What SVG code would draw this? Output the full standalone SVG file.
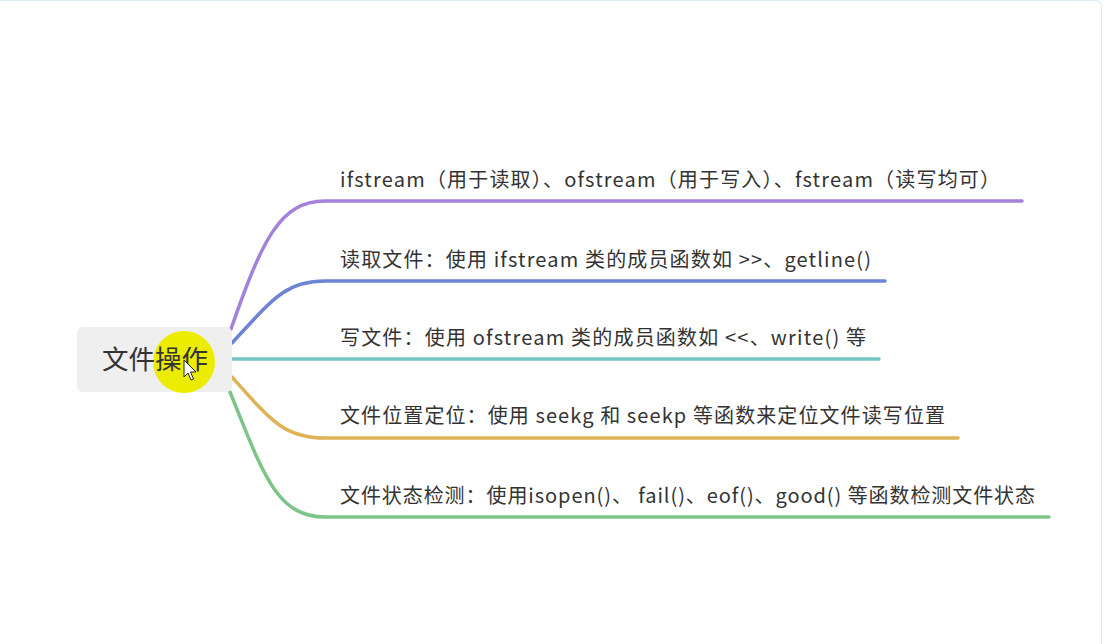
<svg xmlns="http://www.w3.org/2000/svg" width="1106" height="644" viewBox="0 0 1106 644">
<style>
.t{font-family:"Microsoft YaHei","Noto Sans CJK SC","Noto Sans",sans-serif;font-size:20px;fill:#333333}
.c{fill:none;stroke-width:3.5;stroke-linecap:round}
</style>
<rect x="0" y="0" width="1106" height="644" fill="#ffffff"/>
<path d="M0,0.5 H1096 Q1101.5,0.5 1101.5,6 V644" fill="none" stroke="#d6eef3" stroke-width="1"/>
<g id="connectors">
<path class="c" stroke="#a482dc" d="M231,329 C262,240 280,201 325,201 L1022,201"/>
<path class="c" stroke="#6d84d6" d="M232,343 C272,300 285,281 325,281 L885,281"/>
<path class="c" stroke="#77c4c4" d="M232,359 L879,359"/>
<path class="c" stroke="#ddb356" d="M232,377 C272,422 285,438 325,438 L958,438"/>
<path class="c" stroke="#7cc487" d="M230,392 C262,470 275,517 325,517 L1049,517"/>
</g>
<g id="root">
<rect x="77" y="327" width="155" height="65" rx="6" fill="#efefef"/>
<circle cx="184" cy="362" r="31" fill="#ecec00"/>
<text x="155" y="369" text-anchor="middle" class="t" style="font-size:26.5px">文件操作</text>
<path d="M184,360 L184,377 L188,373 L191,380 L193.5,379 L190.5,372 L196,372 Z" fill="#ffffff" stroke="#222" stroke-width="1"/>
</g>
<g id="n1"><text x="340" y="187" class="t" textLength="660" lengthAdjust="spacing">ifstream（用于读取）、ofstream（用于写入）、fstream（读写均可）</text></g>
<g id="n2"><text x="340" y="267" class="t" textLength="531" lengthAdjust="spacing">读取文件：使用 ifstream 类的成员函数如 &gt;&gt;、getline()</text></g>
<g id="n3"><text x="340" y="345" class="t" textLength="526" lengthAdjust="spacing">写文件：使用 ofstream 类的成员函数如 &lt;&lt;、write() 等</text></g>
<g id="n4"><text x="340" y="423" class="t" textLength="605" lengthAdjust="spacing">文件位置定位：使用 seekg 和 seekp 等函数来定位文件读写位置</text></g>
<g id="n5"><text x="340" y="503" class="t" textLength="695" lengthAdjust="spacing">文件状态检测：使用isopen()、 fail()、eof()、good() 等函数检测文件状态</text></g>
</svg>
